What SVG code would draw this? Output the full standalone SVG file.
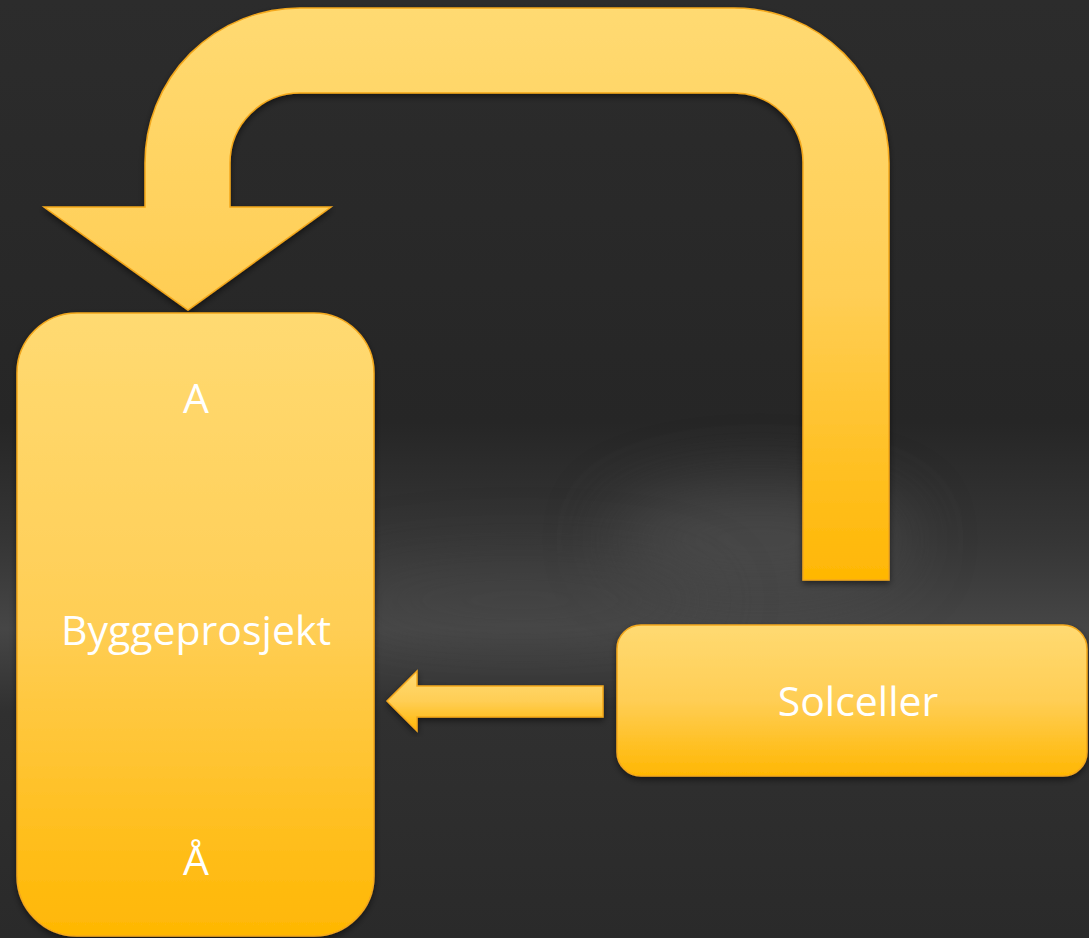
<svg xmlns="http://www.w3.org/2000/svg" width="1089" height="938" viewBox="0 0 1089 938">
<defs>
<linearGradient id="bg" x1="0" y1="0" x2="0" y2="1">
<stop offset="0" stop-color="#2c2c2c"/>
<stop offset="0.45" stop-color="#262626"/>
<stop offset="0.58" stop-color="#363636"/>
<stop offset="0.67" stop-color="#464646"/>
<stop offset="0.76" stop-color="#303030"/>
<stop offset="1" stop-color="#2a2a2a"/>
</linearGradient>
<linearGradient id="gold" x1="0" y1="0" x2="0" y2="1">
<stop offset="0" stop-color="#FFDA72"/>
<stop offset="0.5" stop-color="#FFCE55"/>
<stop offset="1" stop-color="#FFB703"/>
</linearGradient>
<filter id="sh" x="-10%" y="-10%" width="120%" height="120%">
<feDropShadow dx="0" dy="3" stdDeviation="3" flood-color="#000" flood-opacity="0.5"/>
</filter>
<filter id="blur" x="-100%" y="-200%" width="300%" height="500%"><feGaussianBlur stdDeviation="35"/></filter>
<style>
.shape{fill:url(#gold);stroke:#F4A81C;stroke-width:1.5;filter:url(#sh)}
.lbl{font-family:"Open Sans","Liberation Sans",sans-serif;font-size:41px;fill:#ffffff;text-anchor:middle}
</style>
</defs>
<rect width="1089" height="938" fill="url(#bg)"/>
<ellipse cx="760" cy="540" rx="150" ry="50" fill="#5a5a5a" opacity="0.55" filter="url(#blur)"/>
<ellipse cx="520" cy="600" rx="200" ry="40" fill="#4a4a4a" opacity="0.4" filter="url(#blur)"/>
<g id="connectors">
<path class="shape" d="M889,580 L889,163 A155,155 0 0 0 734,8 L300,8 A155,155 0 0 0 145,163 L145,207 L44,207 L188,310 L331,207 L230,207 L230,163 A70,70 0 0 1 300,93 L734,93 A69,69 0 0 1 803,162 L803,580 Z"/>
<path class="shape" d="M603,686 L417,686 L417,671 L387,701 L417,731 L417,717 L603,717 Z"/>
</g>
<g id="byggeprosjekt">
<rect class="shape" x="17" y="313" width="357" height="623" rx="60" ry="60"/>
<text class="lbl" x="196" y="413">A</text>
<text class="lbl" x="196" y="645">Byggeprosjekt</text>
<text class="lbl" x="196" y="875">Å</text>
</g>
<g id="solceller">
<rect class="shape" x="617" y="625" width="470" height="151" rx="24" ry="24"/>
<text class="lbl" x="858" y="716">Solceller</text>
</g>
</svg>
